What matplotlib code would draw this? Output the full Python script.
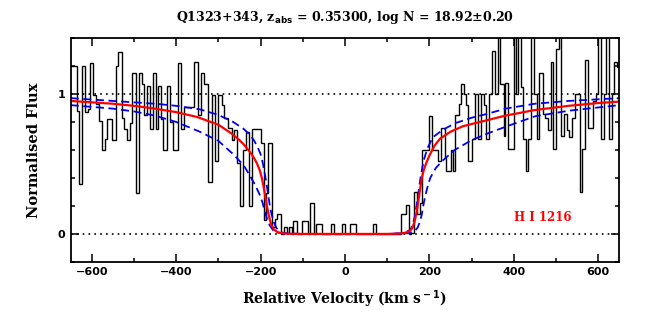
import matplotlib
matplotlib.use("Agg")
import matplotlib.pyplot as plt
from matplotlib.ticker import MultipleLocator, FixedLocator

# observed spectrum: bin edges (km/s) and normalised flux per bin
edges = [-649, -636, -630, -622, -616, -610, -603, -596, -589, -582, -575, -569, -563, -551,
         -543, -537, -529, -523, -516, -509, -504, -496, -488, -482, -475, -469, -463, -456,
         -448, -442, -436, -430, -422, -415, -408, -396, -389, -381, -357, -349, -341, -333,
         -325, -316, -308, -300, -292, -286, -276, -268, -262, -256, -248, -242, -235, -227,
         -220, -200, -193, -188, -182, -174, -166, -160, -152, -145, -138, -133, -126, -122,
         -114, -101, -88, -82, -73, -68, -54, -34, -26, -8, 0, 13, 25, 66, 74, 133, 144, 152,
         157, 163, 171, 177, 183, 198, 207, 220, 228, 236, 240, 250, 256, 261, 269, 275, 281,
         287, 292, 302, 308, 315, 322, 329, 334, 341, 348, 356, 362, 368, 376, 379, 386, 400,
         404, 411, 416, 422, 428, 434, 441, 449, 455, 460, 468, 474, 480, 487, 493, 499, 506,
         512, 518, 525, 531, 537, 544, 556, 562, 569, 575, 588, 594, 600, 607, 613, 619, 626,
         632, 638, 644, 649]
flux = [1.20, 0.88, 0.36, 1.20, 0.87, 0.89, 1.22, 0.99, 0.93, 0.81, 0.60, 0.68, 0.82, 0.67,
        1.20, 1.30, 0.83, 0.75, 0.67, 0.79, 1.15, 0.29, 1.15, 1.07, 0.85, 1.06, 0.75, 1.15,
        0.75, 1.06, 0.82, 0.60, 1.06, 0.80, 0.60, 1.22, 0.75, 0.91, 1.23, 0.85, 1.15, 1.07,
        0.37, 0.99, 0.52, 0.99, 0.92, 0.83, 0.76, 0.67, 0.74, 0.51, 0.20, 0.60, 0.73, 0.20,
        0.75, 0.65, 0.10, 0.29, 0.65, 0.05, 0.11, 0.14, 0.00, 0.05, 0.01, 0.05, 0.00, 0.09,
        0.00, 0.09, 0.00, 0.22, 0.00, 0.07, 0.00, 0.07, 0.00, 0.07, 0.00, 0.07, 0.00, 0.07,
        0.00, 0.14, 0.21, 0.00,
        0.01, 0.30, 0.14, 0.22, 0.60, 0.84, 0.60, 0.52, 0.76, 0.54, 0.45, 0.60, 0.45, 0.85,
        0.93, 1.07, 1.00, 0.92, 0.52, 0.68, 1.00, 0.68, 1.00, 0.92, 0.68, 1.00, 1.31, 1.00,
        1.50, 1.07, 0.70, 1.08, 0.61, 1.50, 1.00, 1.50, 1.05, 0.68, 0.45, 0.68, 1.50, 1.00,
        0.68, 1.15, 0.86, 0.83, 0.74, 1.23, 0.61, 1.32, 1.50, 0.70, 0.86, 0.74, 0.69, 0.83,
        1.00, 0.30, 0.61, 1.24, 0.76, 0.95, 1.00, 1.50, 0.68, 1.00, 1.50, 0.68, 1.00, 1.23,
        1.19]

# best-fit model (red)
fit_v = [-650, -600, -550, -500, -450, -400, -350, -300, -270, -250, -240, -225, -215, -208,
         -202, -197, -193, -189, -185, -181, -177, -173, -168, -160, -150, -130, -100, 100,
         130, 145, 155, 160, 165, 170, 174, 178, 182, 187, 193, 200, 212, 225, 250, 280, 320,
         380, 450, 530, 600, 650]
fit_f = [0.95, 0.94, 0.93, 0.915, 0.895, 0.87, 0.835, 0.78, 0.72, 0.67, 0.64, 0.585, 0.54,
         0.50, 0.455, 0.40, 0.34, 0.27, 0.20, 0.14, 0.09, 0.055, 0.03, 0.013, 0.005, 0.001,
         0.0, 0.0, 0.002, 0.01, 0.025, 0.045, 0.09, 0.16, 0.24, 0.32, 0.40, 0.46, 0.51, 0.56,
         0.63, 0.68, 0.73, 0.77, 0.80, 0.845, 0.885, 0.915, 0.935, 0.945]

# +/- error models (blue dashed)
hi_v = [-650, -550, -450, -400, -344, -300, -265, -240, -226, -215, -207, -200, -195, -190,
        -186, -182, -178, -174, -168, -162, -150, -130, -100, 100, 140, 155, 160, 165, 170,
        175, 180, 186, 195, 208, 230, 260, 300, 340, 380, 450, 530, 650]
hi_f = [0.97, 0.95, 0.93, 0.915, 0.89, 0.85, 0.80, 0.75, 0.71, 0.665, 0.62, 0.57, 0.51, 0.43,
        0.36, 0.28, 0.20, 0.14, 0.08, 0.04, 0.01, 0.002, 0.0, 0.0, 0.005, 0.03, 0.06, 0.12,
        0.21, 0.32, 0.42, 0.52, 0.61, 0.69, 0.74, 0.79, 0.83, 0.86, 0.895, 0.93, 0.95, 0.97]
lo_v = [-650, -550, -500, -450, -400, -344, -300, -265, -240, -226, -213, -202, -195, -190,
        -186, -182, -178, -170, -160, -140, -100, 100, 150, 165, 172, 178, 182, 186, 190, 195,
        202, 215, 230, 260, 300, 340, 380, 450, 530, 650]
lo_f = [0.92, 0.895, 0.875, 0.845, 0.80, 0.73, 0.665, 0.57, 0.49, 0.42, 0.35, 0.28, 0.22, 0.16,
        0.12, 0.085, 0.06, 0.025, 0.01, 0.002, 0.0, 0.0, 0.005, 0.02, 0.045, 0.09, 0.14, 0.21,
        0.27, 0.33, 0.40, 0.47, 0.52, 0.60, 0.67, 0.72, 0.765, 0.84, 0.88, 0.92]

fig = plt.figure(figsize=(6.54, 3.27), dpi=100)
ax = fig.add_axes([0.108, 0.199, 0.839, 0.685])

ax.stairs(flux, edges, color="black", lw=1.0, baseline=None)
ax.axhline(0, color="black", lw=1.2, linestyle=(0, (1, 2.5)))
ax.axhline(1, color="black", lw=1.2, linestyle=(0, (1, 2.5)))
ax.plot(hi_v, hi_f, color="#0000ee", lw=1.3, dashes=(4.5, 2.5))
ax.plot(lo_v, lo_f, color="#0000ee", lw=1.3, dashes=(4.5, 2.5))
ax.plot(fit_v, fit_f, color="red", lw=1.6)

ax.set_xlim(-650, 650)
ax.set_ylim(-0.2, 1.4)
ax.xaxis.set_major_locator(MultipleLocator(200))
ax.xaxis.set_minor_locator(MultipleLocator(100))
ax.yaxis.set_major_locator(FixedLocator([0, 1]))
ax.yaxis.set_minor_locator(MultipleLocator(0.2))
ax.tick_params(which="both", direction="in", top=True, right=True, width=1.1)
ax.tick_params(which="major", length=6, pad=4, labelsize=8)
ax.tick_params(which="minor", length=3)
for lbl in ax.get_xticklabels() + ax.get_yticklabels():
    lbl.set_fontweight("bold")
for sp in ax.spines.values():
    sp.set_linewidth(1.3)

ax.text(400, 0.12, "H I 1216", color="red", fontsize=8.5, fontweight="bold",
        family="DejaVu Serif", va="center", ha="left")

ax.set_title(r"Q1323+343, z$_{\bf abs}$ = 0.35300, log N = 18.92±0.20",
             fontsize=9, fontweight="bold", family="DejaVu Serif", pad=12)
ax.set_xlabel(r"Relative Velocity (km s$^{\bf -1}$)", fontsize=10, fontweight="bold",
              family="DejaVu Serif", labelpad=8)
ax.set_ylabel("Normalised Flux", fontsize=10.5, fontweight="bold", family="DejaVu Serif",
              labelpad=12)

plt.savefig("out.png", dpi=100)
